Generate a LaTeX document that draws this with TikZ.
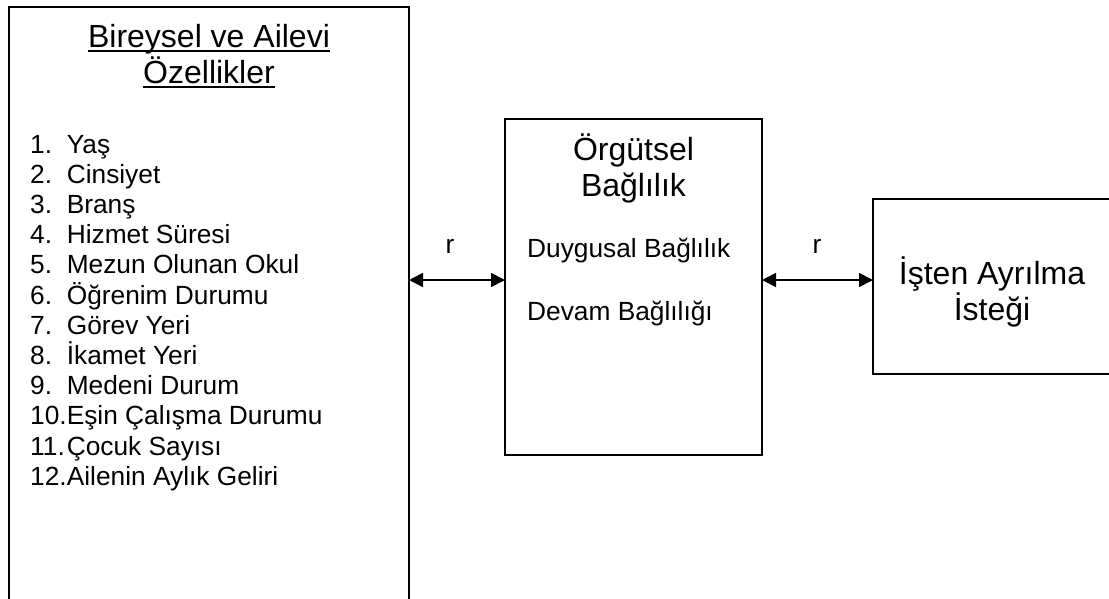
\documentclass[tikz,border=0pt]{standalone}
\usepackage{fontspec}
\setmainfont{Liberation Sans}
\usetikzlibrary{arrows.meta}
% underlined heading text with a fixed rule below the baseline
\newcommand\ultext[1]{\setbox0=\hbox{#1}\rlap{\rule[-4.6pt]{\wd0}{2pt}}\box0}
\begin{document}
\begin{tikzpicture}[x=1pt,y=-1pt,
  panel/.style={draw, line width=1.8pt, inner sep=0pt, outer sep=0pt, anchor=north west},
  heading/.style={anchor=base, inner sep=0pt, font=\fontsize{32}{36.8}\selectfont},
  body/.style={anchor=base west, inner sep=0pt, font=\fontsize{26.3}{30.2}\selectfont},
  biarrow/.style={line width=1.8pt, {Triangle[length=14pt,width=14pt]}-{Triangle[length=14pt,width=14pt]}}]
\useasboundingbox (0,0) rectangle (1109,598);
\clip (0,0) rectangle (1109,598);

% panels
\node[panel, minimum width=400pt, minimum height=700pt] (indiv) at (9,7) {};
\node[panel, minimum width=257pt, minimum height=336pt] (org) at (505,119) {};
\node[panel, minimum width=250pt, minimum height=175pt] (quit) at (873,199) {};

% left panel
\node[heading] (t1a) at (209,47) {\ultext{Bireysel ve Ailevi}};
\node[heading] (t1b) at (209,83) {\ultext{Özellikler}};
\foreach \n/\t in {1/Yaş, 2/Cinsiyet, 3/Branş, 4/Hizmet Süresi, 5/Mezun Olunan Okul,
  6/Öğrenim Durumu, 7/Görev Yeri, 8/İkamet Yeri, 9/Medeni Durum,
  10/Eşin Çalışma Durumu, 11/Çocuk Sayısı, 12/Ailenin Aylık Geliri} {
  \node[body] (num\n) at (30,{153+(\n-1)*30.2}) {\n.};
  \node[body] (item\n) at (66.6,{153+(\n-1)*30.2}) {\t};
}

% middle panel
\node[heading] (t2a) at (633.5,160) {Örgütsel};
\node[heading] (t2b) at (633.5,196) {Bağlılık};
\node[body] (d1) at (527,257) {Duygusal Bağlılık};
\node[body] (d2) at (527,320) {Devam Bağlılığı};

% right panel
\node[heading] (t3a) at (992,284) {İşten Ayrılma};
\node[heading] (t3b) at (992,320) {İsteği};

% connectors
\coordinate (pL) at ([yshift=7pt]org.west);
\coordinate (pR) at ([yshift=7pt]org.east);
\draw[biarrow] (indiv.east |- pL) -- (pL);
\draw[biarrow] (pR) -- (quit.west |- pR);
\node[body, anchor=base] (r1) at (450,253) {r};
\node[body, anchor=base] (r2) at (817,253) {r};
\end{tikzpicture}
\end{document}
